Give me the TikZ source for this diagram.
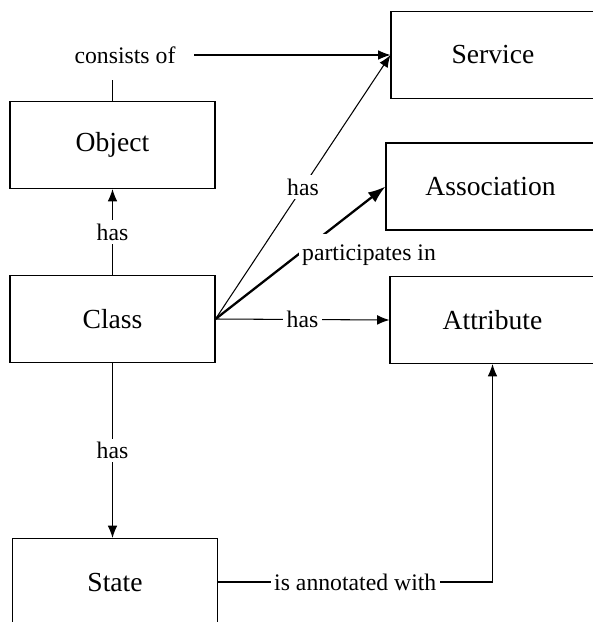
\documentclass[tikz,border=0pt]{standalone}
\usepackage{fontspec}
\setmainfont{Liberation Serif}
\usetikzlibrary{arrows.meta}

\begin{document}
\begin{tikzpicture}[x=0.02cm, y=-0.02cm, line width=0.6pt,
	box/.style={rectangle, draw=black, line width=0.6pt, minimum width=4.1cm, minimum height=1.74cm, font=\fontsize{15.7}{18}\selectfont},
	lbl/.style={fill=white, inner sep=2pt, font=\fontsize{13.5}{16}\selectfont},
	>={Latex[length=7pt, width=5.5pt]}]
			\useasboundingbox (0,0) rectangle (592,622);
			
			\node[box] (obj) at (112.5,145){Object};
			\node[box] (cls) at (112.5,319){Class};
			\node[box] (st) at (115,582){State};
			\node[box, minimum width=4.08cm] (svc) at (493,55){Service};
			\node[box, minimum width=4.18cm] (asc) at (490.5,186.5){Association};
			\node[box, minimum width=4.1cm] (att) at (492.5,320){Attribute};
			
			\node[lbl] (cons) at (125,55){consists of};
			\coordinate (consfoot) at (112.5,80);
			
			\path[draw] (obj.north) -- (consfoot);
			\path[draw, ->, shorten <=0.3cm] (cons) -- (svc.west);
			\path (cls) edge[->] node[lbl]{has} (obj);
			\path (cls.east) edge[->] node[lbl]{has} (svc.west);
			\path (cls.east) edge[->, line width=1.3pt, >={Latex[length=10pt, width=7pt]}] node[lbl, pos=0.5, anchor=west, xshift=-0.06cm, yshift=-0.04cm, inner ysep=6pt]{participates in} (asc.west);
			\path (cls.east) edge[->] node[lbl]{has} (att.west);
			\path (cls.south) edge[->] node[lbl]{has} (cls.south |- st.north);
			\path[draw, ->] (st) -- node[lbl]{is annotated with} (st -| att) -- (att);
			\end{tikzpicture}
\end{document}
